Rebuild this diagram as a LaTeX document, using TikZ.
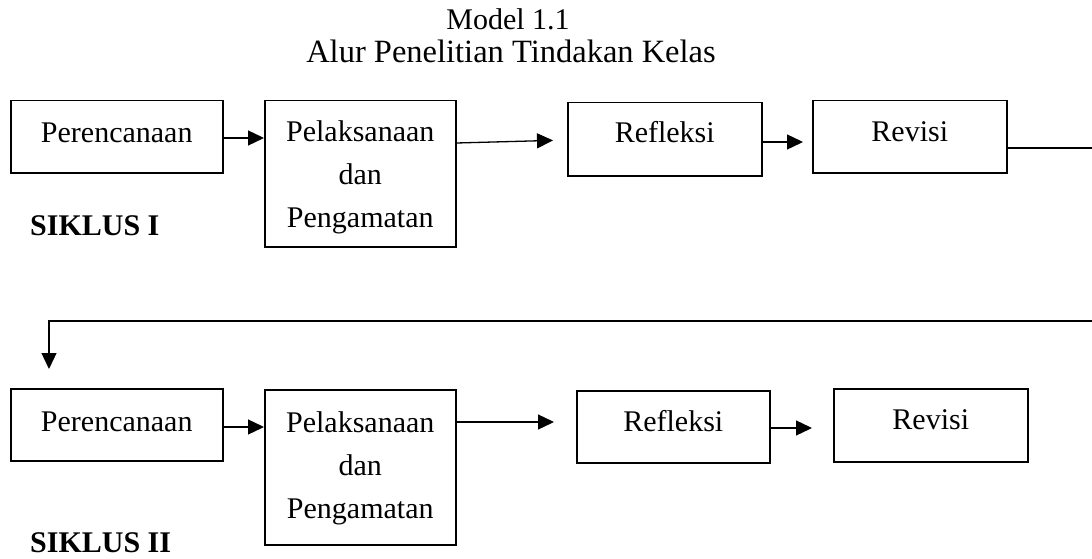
\documentclass[tikz,border=0pt]{standalone}
\usepackage{fontspec}
\setmainfont{Liberation Serif}
\usetikzlibrary{arrows.meta,calc}
\begin{document}
\begin{tikzpicture}[x=1pt,y=-1pt,
  box/.style={draw, line width=1.5pt, inner sep=0pt, anchor=north west, align=center,
    font=\fontsize{30}{43}\selectfont, text height=20pt},
  txt/.style={inner sep=0pt, align=center, font=\fontsize{30}{43}\selectfont},
  arr/.style={line width=1.3pt, -{Triangle[length=16pt,width=15pt]}},
  ln/.style={line width=1.5pt},
  ttl/.style={anchor=base, inner sep=0pt},
  cyc/.style={anchor=base west, inner sep=0pt, font=\fontsize{30}{36}\selectfont\bfseries}]
\useasboundingbox (0,0) rectangle (1092,559);
% title
\node[ttl, font=\fontsize{30}{36}\selectfont] (t1) at (508,30) {Model 1.1};
\node[ttl, font=\fontsize{32.5}{36}\selectfont] (t2) at (511,63) {Alur Penelitian Tindakan Kelas};
% cycle I
\node[box, text depth=9pt, minimum width=212pt, minimum height=72pt] (a1) at (10,100) {Perencanaan};
\node[box, minimum width=191pt, minimum height=146pt] (b1) at (264,100) {};
\node[txt] (b1t) at ([yshift=-4pt]b1.center) {Pelaksanaan\\dan\\Pengamatan};
\node[box, text depth=13pt, minimum width=194pt, minimum height=73pt] (c1) at (567,102) {Refleksi};
\node[box, text depth=10pt, minimum width=194pt, minimum height=72pt] (d1) at (812,100) {Revisi};
\node[cyc] (s1) at (30,235) {SIKLUS I};
\coordinate (e1) at (1092,148);
\coordinate (e2) at (1092,321);
% cycle II
\node[box, text depth=6pt, minimum width=212pt, minimum height=72pt] (a2) at (10,388) {Perencanaan};
\node[box, minimum width=191pt, minimum height=155pt] (b2) at (264,389) {};
\node[txt] (b2t) at ([yshift=-1pt]b2.center) {Pelaksanaan\\dan\\Pengamatan};
\node[box, text depth=10pt, minimum width=193pt, minimum height=72pt] (c2) at (576,390) {Refleksi};
\node[box, text depth=11.5pt, minimum width=194pt, minimum height=73pt] (d2) at (833,388) {Revisi};
\node[cyc] (s2) at (30,552) {SIKLUS II};
% connectors cycle I
\draw[arr] (a1.east |- 0,138) -- (b1.west |- 0,138);
\draw[arr, shorten >=14pt] (b1.east |- 0,143) -- (c1.west |- 0,140);
\draw[arr, shorten >=9pt] (c1.east |- 0,142) -- (d1.west |- 0,142);
\draw[ln] (d1.east |- 0,148) -- (e1);
% return
\draw[arr, shorten >=19pt] (e2) -| ($(a2.north west)+(39,0)$);
% connectors cycle II
\draw[arr] (a2.east |- 0,427) -- (b2.west |- 0,427);
\draw[arr, shorten >=22pt] (b2.east |- 0,422) -- (c2.west |- 0,422);
\draw[arr, shorten >=21pt] (c2.east |- 0,428) -- (d2.west |- 0,428);
\end{tikzpicture}
\end{document}
